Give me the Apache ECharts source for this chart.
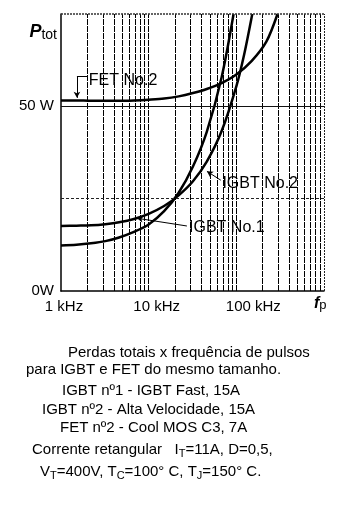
<!DOCTYPE html>
<html>
<head>
<meta charset="utf-8">
<script src="https://cdn.jsdelivr.net/npm/echarts@6/dist/echarts.min.js"></script>
<style>
  html, body { margin: 0; padding: 0; background: #fff; }
  #chart { width: 344px; height: 511px; }
</style>
</head>
<body>
<div id="chart"></div>
<script>
// Total loss (W) versus pulse frequency (kHz)
const fetFreq   = [1, 1.5, 2.2, 3.2, 4.6, 6.8, 10, 15, 22, 32, 46, 68, 100, 150, 220, 295];
const fetLoss   = [51.6, 51.6, 51.5, 51.5, 51.5, 51.6, 51.8, 52.1, 52.7, 53.6, 54.7, 56.3, 58.6, 62.3, 67.5, 75.0];

const igbt1Freq = [1, 1.5, 2.2, 3.2, 4.6, 6.8, 10, 15, 22, 32, 46, 68, 100, 123, 152];
const igbt1Loss = [17.6, 17.7, 17.8, 18.1, 18.6, 19.5, 20.9, 23.0, 25.9, 29.7, 35.0, 43.3, 55.4, 64.1, 75.0];

const igbt2Freq = [1, 1.5, 2.2, 3.2, 4.6, 6.8, 10, 15, 22, 32, 46, 68, 93];
const igbt2Loss = [12.3, 12.5, 12.9, 13.5, 14.5, 16.0, 18.0, 21.6, 26.6, 33.7, 43.1, 57.9, 75.0];

// Log grid lines (kHz) and tick texts
const gridFreq = [2, 3, 4, 5, 6, 7, 8, 9, 10, 20, 30, 40, 50, 60, 70, 80, 90, 100,
                  200, 300, 400, 500, 600, 700, 800, 900];
const xTickText = { 1: '1 kHz', 10: '10 kHz', 100: '100 kHz' };
const yTickText = { 0: '0W', 50: '50 W' };

// Curve annotations: label, text anchor, leader start, leader tip
const notes = [
  { name: 'FET No.2',  text: [2.05, 57.0], from: [2.03, 58.1], corner: [1.52, 58.1], tip: [1.52, 52.3] },
  { name: 'IGBT No.2', text: [68.5, 29.2], from: [66.5, 30.0], tip: [46.2, 32.4] },
  { name: 'IGBT No.1', text: [28.5, 17.3], from: [27.3, 17.6], tip: [7.35, 19.7] }
];

const captionLines = [
  { x: 68, y: 353, text: 'Perdas totais x frequência de pulsos' },
  { x: 26, y: 370, text: 'para IGBT e FET do mesmo tamanho.' },
  { x: 62, y: 391, text: 'IGBT nº1 - IGBT Fast, 15A' },
  { x: 42, y: 410, text: 'IGBT nº2 - Alta Velocidade, 15A' },
  { x: 60, y: 428, text: 'FET nº2 - Cool MOS C3, 7A' },
  { x: 32, y: 450, text: 'Corrente retangular   I{s|T}=11A, D=0,5,' },
  { x: 40, y: 472, text: 'V{s|T}=400V, T{s|C}=100° C, T{s|J}=150° C.' }
];

const FONT = "'Liberation Sans', Arial, sans-serif";
const zip = (xs, ys) => xs.map((x, i) => [x, ys[i]]);

const curveStyle = { color: '#000', width: 2.5 };

const leaderLines = [];
notes.forEach(n => {
  if (n.corner) {
    leaderLines.push([{ coord: n.from }, { coord: n.corner }]);
    leaderLines.push([{ coord: n.corner }, { coord: n.tip, symbol: 'arrow', symbolSize: [5, 6] }]);
  } else {
    leaderLines.push([{ coord: n.from }, { coord: n.tip, symbol: 'arrow', symbolSize: [5, 6] }]);
  }
});

const curve = (name, xs, ys) => ({
  name,
  type: 'line',
  data: zip(xs, ys),
  smooth: 0.3,
  symbol: 'none',
  z: 3,
  lineStyle: curveStyle
});

const chart = echarts.init(document.getElementById('chart'), null, { renderer: 'canvas' });

chart.setOption({
  animation: false,
  backgroundColor: '#fff',
  textStyle: { fontFamily: FONT },
  grid: { left: 61, right: 20, top: 14, bottom: 220, outerBoundsMode: 'none' },
  xAxis: {
    type: 'log',
    logBase: 10,
    min: 1,
    max: 1000,
    axisLine: { show: true, onZero: false, lineStyle: { color: '#000', width: 1.5 } },
    axisTick: { show: false },
    splitLine: { show: false },
    axisLabel: {
      margin: 8,
      color: '#000',
      fontFamily: FONT,
      fontSize: 15,
      formatter: v => {
        const k = Math.round(v);
        if (k === 1) return '{g1|}' + xTickText[1];
        if (k === 10) return '{g2|}' + xTickText[10];
        if (k === 100) return '{g3|}' + xTickText[100];
        return '';
      },
      rich: { g1: { width: 6 }, g2: { width: 16 }, g3: { width: 34 } }
    },
    name: '{f|f}{s|p}',
    nameLocation: 'end',
    nameGap: -10,
    nameTextStyle: {
      align: 'left',
      verticalAlign: 'top',
      padding: [5, 0, 0, 0],
      rich: {
        f: { fontFamily: FONT, fontSize: 16, fontWeight: 'bold', fontStyle: 'italic', lineHeight: 16, color: '#000' },
        s: { fontFamily: FONT, fontSize: 13, lineHeight: 12, verticalAlign: 'bottom', color: '#000' }
      }
    }
  },
  yAxis: {
    type: 'value',
    min: 0,
    max: 75,
    interval: 25,
    axisLine: { show: true, lineStyle: { color: '#000', width: 1.5 } },
    axisTick: { show: false },
    splitLine: { show: false },
    axisLabel: {
      margin: 7,
      color: '#000',
      fontFamily: FONT,
      fontSize: 15,
      formatter: v => yTickText[Math.round(v)] || ''
    },
    name: '{p|P}{s|tot}',
    nameLocation: 'end',
    nameGap: -18,
    nameTextStyle: {
      align: 'right',
      verticalAlign: 'middle',
      padding: [0, 4, 0, 0],
      rich: {
        p: { fontFamily: FONT, fontSize: 18, fontWeight: 'bold', fontStyle: 'italic', lineHeight: 20, color: '#000' },
        s: { fontFamily: FONT, fontSize: 14, lineHeight: 14, verticalAlign: 'bottom', color: '#000' }
      }
    }
  },
  series: [
    {
      // chart paper grid
      type: 'line',
      data: [],
      z: 1,
      silent: true,
      markLine: {
        silent: true,
        animation: false,
        symbol: ['none', 'none'],
        label: { show: false },
        lineStyle: { color: '#000', width: 1, type: [6, 1] },
        data: gridFreq.map(f => ({ xAxis: f }))
          .concat([
            { xAxis: 1000, lineStyle: { color: '#222', width: 1, type: [2, 1] } },
            { yAxis: 25, lineStyle: { color: '#222', width: 1, type: [3, 2] } },
            { yAxis: 50, lineStyle: { color: '#111', width: 1, type: 'solid' } },
            { yAxis: 75, lineStyle: { color: '#333', width: 1.5, type: [2, 1] } }
          ])
      }
    },
    curve('FET No.2', fetFreq, fetLoss),
    curve('IGBT No.1', igbt1Freq, igbt1Loss),
    curve('IGBT No.2', igbt2Freq, igbt2Loss),
    {
      // curve labels with leader lines
      type: 'line',
      data: [],
      z: 4,
      silent: true,
      markLine: {
        silent: true,
        animation: false,
        symbol: ['none', 'none'],
        label: { show: false },
        lineStyle: { color: '#000', width: 1, type: 'solid' },
        data: leaderLines
      },
      markPoint: {
        silent: true,
        animation: false,
        symbol: 'rect',
        symbolSize: 1,
        itemStyle: { color: 'rgba(0,0,0,0)' },
        label: {
          show: true,
          position: 'right',
          distance: 0,
          color: '#000',
          fontFamily: FONT,
          fontSize: 16,
          formatter: p => p.name
        },
        data: notes.map(n => ({ name: n.name, coord: n.text }))
      }
    }
  ],
  graphic: captionLines.map(l => ({
    type: 'text',
    x: l.x,
    y: l.y,
    style: {
      text: l.text,
      fill: '#000',
      fontSize: 15,
      fontFamily: FONT,
      lineHeight: 18,
      textAlign: 'left',
      verticalAlign: 'middle',
      rich: {
        s: { fontSize: 11, fontFamily: FONT, lineHeight: 8, verticalAlign: 'bottom', fill: '#000' }
      }
    }
  }))
});
</script>
</body>
</html>
